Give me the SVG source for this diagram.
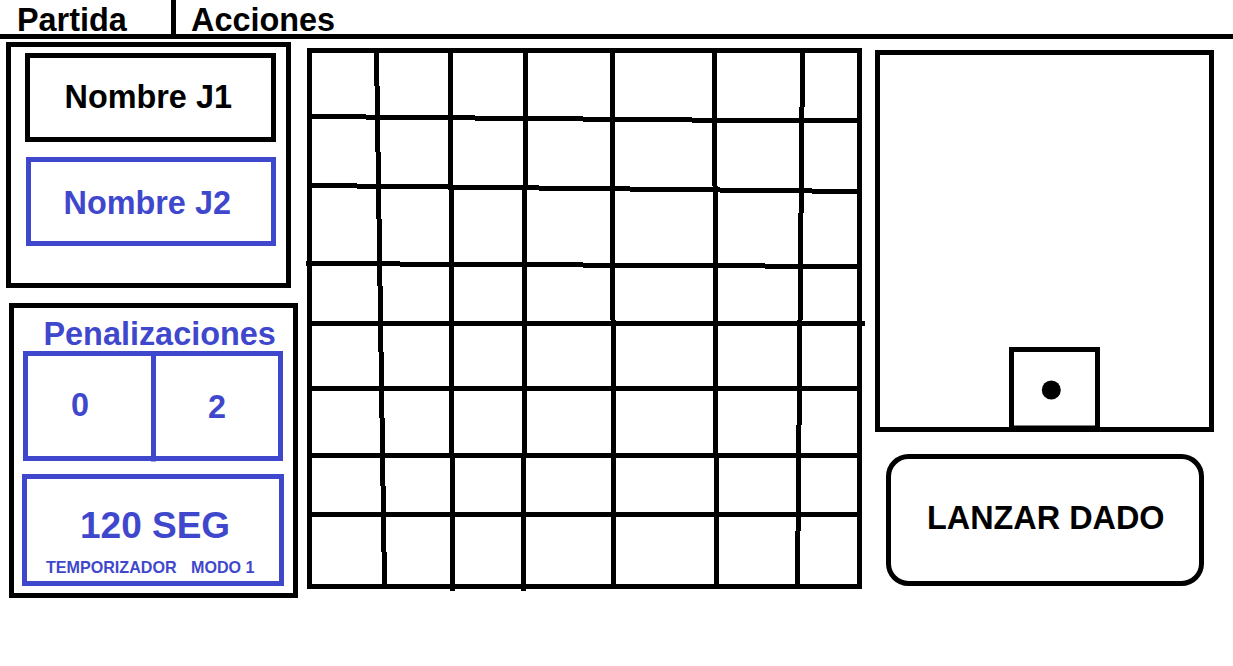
<svg xmlns="http://www.w3.org/2000/svg" width="1233" height="666" viewBox="0 0 1233 666">
<style>
.k{fill:none;stroke:#000;stroke-width:5}
.b{fill:none;stroke:#3f48cc;stroke-width:5}
.g{fill:none;stroke:#000;stroke-width:5;shape-rendering:crispEdges}
text{font-family:"Liberation Sans",Arial,sans-serif;font-weight:700;fill:#000}
.t{fill:#3f48cc}
</style>
<rect width="1233" height="666" fill="#fff"/>
<g id="menu">
<path class="k" d="M0 36.5H1233M173.5 0V36"/>
<text x="17" y="30.5" font-size="32.4">Partida</text>
<text x="191" y="30.5" font-size="32.4">Acciones</text>
</g>
<g id="jugadores">
<rect class="k" x="8.5" y="44.5" width="280" height="241"/>
<g id="j1"><rect class="k" x="27.5" y="55.5" width="246" height="84"/><text x="64.5" y="108" font-size="32.4">Nombre J1</text></g>
<g id="j2"><rect class="b" x="28.5" y="159.5" width="245" height="84"/><text class="t" x="63.5" y="213.5" font-size="32.4">Nombre J2</text></g>
</g>
<g id="panel">
<rect class="k" x="11.5" y="305.5" width="284" height="290"/>
<text class="t" x="43.5" y="344.5" font-size="32.4">Penalizaciones</text>
<g id="penalizaciones">
<rect class="b" x="25.5" y="353.5" width="255" height="105"/>
<path class="b" d="M153.5 351V461.5"/>
<text class="t" x="71" y="416" font-size="32.4">0</text>
<text class="t" x="208" y="418" font-size="32.4">2</text>
</g>
<g id="temporizador">
<rect class="b" x="24.5" y="476.5" width="257" height="107"/>
<text class="t" x="80" y="538" font-size="37">120 SEG</text>
<text class="t" x="46" y="573" font-size="16.1">TEMPORIZADOR</text>
<text class="t" x="191" y="573" font-size="16.1">MODO 1</text>
</g>
</g>
<g id="tablero">
<rect class="k" x="309.5" y="50.5" width="550" height="536"/>
<path class="g" d="M376.5 50V86M377.5 86V152M378.5 152V219M379.5 219V286M380.5 286V352M381.5 352V418M382.5 418V486M383.5 486V552M384.5 552V587"/>
<path class="g" d="M450.5 50V188M451.5 188V455M452.5 455V591"/>
<path class="g" d="M525.5 50V188M524.5 188V455M523.5 455V591"/>
<path class="g" d="M612.5 50V320M613.5 320V587"/>
<path class="g" d="M714.5 50V186M715.5 186V455M716.5 455V589"/>
<path class="g" d="M802.5 50V107M801.5 107V213M800.5 213V320M799.5 320V425M798.5 425V531M797.5 531V586"/>
<path class="g" d="M309 116.5H366M366 117.5H475M475 118.5H583M583 119.5H692M692 120.5H860"/>
<path class="g" d="M309 185.5H357M357 186.5H448M448 187.5H539M539 188.5H630M630 189.5H720M720 190.5H812M812 191.5H860"/>
<path class="g" d="M306 263.5H400M400 264.5H583M583 265.5H765M765 266.5H860"/>
<path class="g" d="M309 323.5H865M309 388.5H860M309 455.5H860M309 514.5H860"/>
</g>
<g id="vista">
<rect class="k" x="877.5" y="52.5" width="334" height="377"/>
<g id="dado"><rect class="k" x="1011.5" y="349.5" width="86" height="78.5"/><circle cx="1051.3" cy="390" r="9.5" fill="#000"/></g>
</g>
<g id="lanzar">
<rect class="k" x="888.5" y="456.5" width="313" height="127" rx="20"/>
<text x="927" y="529" font-size="32.4">LANZAR DADO</text>
</g>
</svg>
